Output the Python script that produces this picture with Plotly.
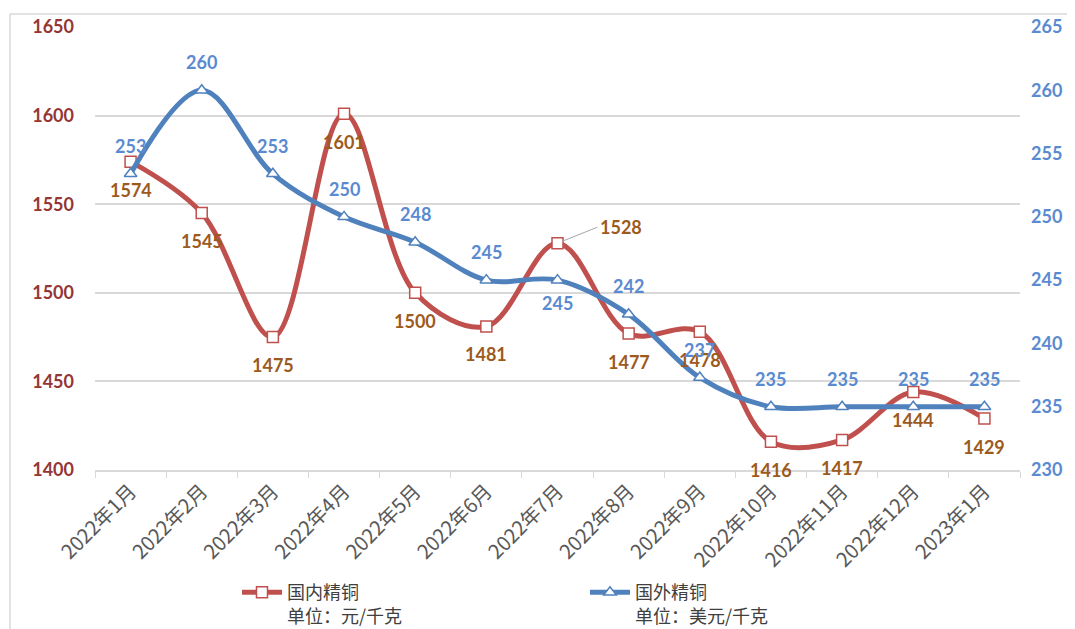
import plotly.graph_objects as go

categories = ["2022年1月", "2022年2月", "2022年3月", "2022年4月", "2022年5月", "2022年6月",
              "2022年7月", "2022年8月", "2022年9月", "2022年10月", "2022年11月", "2022年12月", "2023年1月"]
domestic = [1574, 1545, 1475, 1601, 1500, 1481, 1528, 1477, 1478, 1416, 1417, 1444, 1429]
foreign = [253.4, 260, 253.4, 250, 248, 245, 245, 242.3, 237.3, 235, 235, 235, 235]
foreign_label_below = [False, False, False, False, False, False, True, False, False, False, False, False, False]
domestic_callout = [False, False, False, False, False, False, True, False, False, False, False, False, False]

RED = "#C0504D"
BLUE = "#4F81BD"
RED_LBL = "#9C5A1C"
BLUE_LBL = "#5A8AD0"
FONT = "Lato, 'Noto Sans CJK SC', sans-serif"
CJK = "'Noto Sans CJK SC', sans-serif"

fig = go.Figure()
fig.add_trace(go.Scatter(
    x=categories, y=domestic, name="国内精铜<br>单位：元/千克",
    mode="lines+markers", line=dict(color=RED, width=5, shape="spline", smoothing=1.0),
    marker=dict(symbol="square", size=11, color="white", line=dict(color=RED, width=1.5)),
    yaxis="y"))
fig.add_trace(go.Scatter(
    x=categories, y=foreign, name="国外精铜<br>单位：美元/千克",
    mode="lines+markers", line=dict(color=BLUE, width=5, shape="spline", smoothing=1.0),
    marker=dict(symbol="triangle-up", size=11, color="white", line=dict(color=BLUE, width=1.5)),
    yaxis="y2"))

annotations = []
for c, v, call in zip(categories, domestic, domestic_callout):
    if call:
        annotations.append(dict(x=c, y=v, xref="x", yref="y", text=f"{v}", showarrow=True,
                                arrowhead=0, arrowwidth=1, arrowcolor="#A6A6A6", ax=40, ay=-16,
                                xanchor="left", standoff=5,
                                font=dict(family=FONT, size=18, color=RED_LBL, weight="bold")))
    else:
        annotations.append(dict(x=c, y=v, xref="x", yref="y", text=f"{v}", showarrow=False,
                                yshift=-28,
                                font=dict(family=FONT, size=18, color=RED_LBL, weight="bold")))
for c, v, below in zip(categories, foreign, foreign_label_below):
    annotations.append(dict(x=c, y=v, xref="x", yref="y2", text=f"{v:.0f}", showarrow=False,
                            yshift=-23 if below else 28,
                            font=dict(family=FONT, size=18, color=BLUE_LBL, weight="bold")))

# page has an 8px body margin; compensate so the plot area sits at page px 95..1020 x 27..470
OFF = 8
W, H = 1075, 629
PL, PR, PT, PB = 95, 1020, 27, 470
L, T = PL - OFF, PT - OFF
pw, ph = PR - PL, PB - PT
R, B = W - L - pw, H - T - ph

def px_x(p):
    return (p - PL) / pw

def px_y(p):
    return (PB - p) / ph

fig.update_layout(
    width=W, height=H,
    margin=dict(l=L, r=R, t=T, b=B, autoexpand=False),
    paper_bgcolor="white", plot_bgcolor="white",
    font=dict(family=FONT),
    showlegend=True,
    legend=dict(orientation="h", x=px_x(237), y=px_y(574), xanchor="left", yanchor="top",
                entrywidth=293, entrywidthmode="pixels", valign="top", itemwidth=40,
                font=dict(family=CJK, size=18, color="#404040"),
                bgcolor="rgba(0,0,0,0)"),
    xaxis=dict(type="category", range=[-0.5, len(categories) - 0.5], tickangle=-45,
               showgrid=False, showline=True, automargin=False,
               linecolor="#D9D9D9", linewidth=1.5, ticks="outside", tickson="boundaries",
               ticklen=6, tickcolor="#D9D9D9",
               tickfont=dict(family=CJK, size=20, color="#595959")),
    yaxis=dict(range=[1400, 1650], dtick=50, showgrid=True, gridcolor="#D9D9D9", gridwidth=1.5,
               zeroline=False, showline=False, ticks="", automargin=False, ticklabelstandoff=20,
               tickfont=dict(family=FONT, size=18, color="#943634", weight="bold")),
    yaxis2=dict(range=[230, 265], dtick=5, overlaying="y", side="right", showgrid=False,
                zeroline=False, showline=False, ticks="", automargin=False, ticklabelstandoff=10,
                tickfont=dict(family=FONT, size=18, color=BLUE_LBL, weight="bold")),
    annotations=annotations,
    shapes=[dict(type="rect", xref="paper", yref="paper",
                 x0=px_x(10), x1=px_x(1100), y0=px_y(660), y1=px_y(14),
                 line=dict(color="#D9D9D9", width=1.5), fillcolor="rgba(0,0,0,0)", layer="below")],
)

fig.write_html("out.html")
